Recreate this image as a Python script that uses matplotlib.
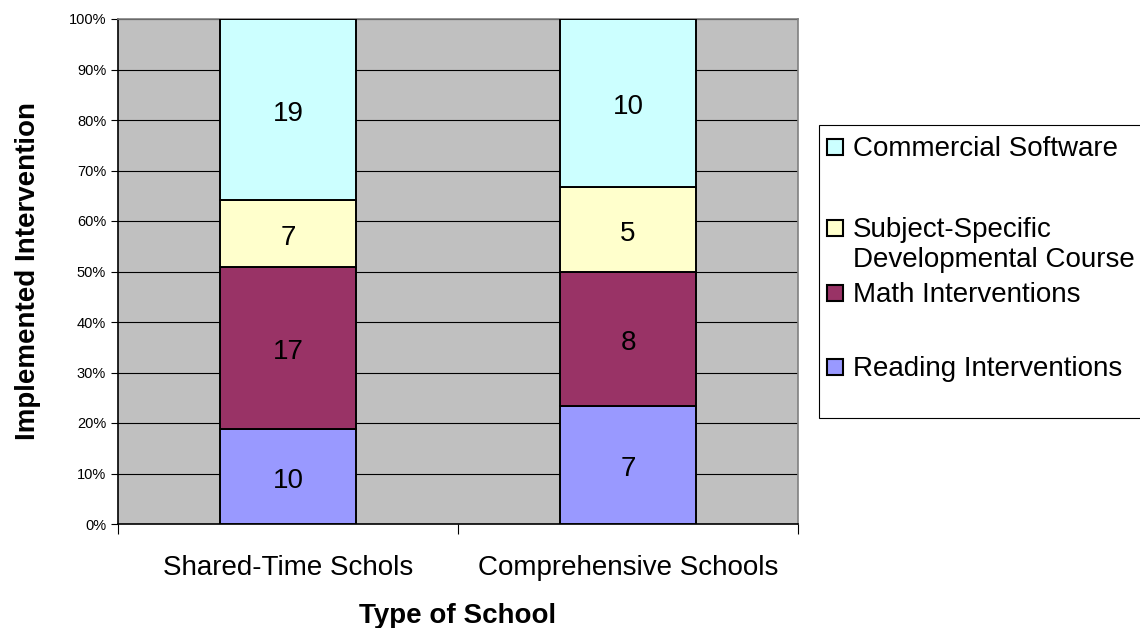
import numpy as np
import matplotlib.pyplot as plt
from matplotlib.patches import Rectangle
from matplotlib.ticker import FixedLocator, PercentFormatter

plt.rcParams['font.family'] = ['Liberation Sans', 'DejaVu Sans']

schools = ['Shared-Time Schols', 'Comprehensive Schools']
series = ['Reading Interventions', 'Math Interventions',
          'Subject-Specific\nDevelopmental Course', 'Commercial Software']
reading = [10, 7]
math = [17, 8]
subject = [7, 5]
commercial = [19, 10]
colors = ['#9999FF', '#993366', '#FFFFCC', '#CCFFFF']


def main():
    counts = np.array([reading, math, subject, commercial], dtype=float)
    pct = counts / counts.sum(axis=0) * 100

    fig = plt.figure(figsize=(11.4, 6.28), dpi=100)
    ax = fig.add_axes([118 / 1140, 1 - 524 / 628, 680 / 1140, 505 / 628])
    ax.set_facecolor('#C0C0C0')

    x = np.arange(len(schools))
    bottom = np.zeros(len(schools))
    for i in range(len(series)):
        bars = ax.bar(x, pct[i], 0.4, bottom=bottom, color=colors[i],
                      edgecolor='black', linewidth=1.4, zorder=3)
        for b, c, y0 in zip(bars, counts[i], bottom):
            ax.annotate(f'{int(c)}',
                        (b.get_x() + b.get_width() / 2, y0 + b.get_height() / 2),
                        xytext=(0, -3), textcoords='offset points',
                        ha='center', va='center', fontsize=20, zorder=4)
        bottom += pct[i]

    ax.set_xlim(-0.5, 1.5)
    ax.set_ylim(0, 100)
    ax.set_yticks(np.arange(0, 101, 10))
    ax.yaxis.set_major_formatter(PercentFormatter(decimals=0))
    ax.yaxis.grid(True, color='black', linewidth=0.8, zorder=1)
    ax.tick_params(axis='y', labelsize=10.5, length=5, width=0.8, direction='out')

    ax.set_xticks(x)
    ax.set_xticklabels(schools, fontsize=20)
    ax.xaxis.set_minor_locator(FixedLocator([-0.5, 0.5, 1.5]))
    ax.tick_params(axis='x', which='major', length=0, pad=22)
    ax.tick_params(axis='x', which='minor', length=7, width=0.8, direction='out')

    for s in ['top', 'right']:
        ax.spines[s].set_color('#808080')
    for s in ['left', 'bottom']:
        ax.spines[s].set_color('black')
    for s in ax.spines.values():
        s.set_linewidth(1.2)

    ax.set_xlabel('Type of School', fontsize=20, fontweight='bold', labelpad=16)
    ax.set_ylabel('Implemented Intervention', fontsize=20, fontweight='bold',
                  labelpad=20)

    # hand-drawn legend box to match the original layout
    W, H = 1140, 628
    fig.patches.append(Rectangle((819 / W, 1 - 418 / H), 330 / W, 293 / H,
                                 transform=fig.transFigure, facecolor='white',
                                 edgecolor='black', linewidth=0.8))
    rows = [(3, 147), (2, 228), (1, 293), (0, 367)]
    for idx, yc in rows:
        fig.patches.append(Rectangle((827 / W, 1 - (yc + 8) / H), 16 / W, 16 / H,
                                     transform=fig.transFigure,
                                     facecolor=colors[idx], edgecolor='black',
                                     linewidth=1.5))
        fig.text(853 / W, 1 - (yc - 11) / H, series[idx], fontsize=20,
                 ha='left', va='top', linespacing=1.18)

    fig.savefig('out.png', dpi=100)


if __name__ == '__main__':
    main()
